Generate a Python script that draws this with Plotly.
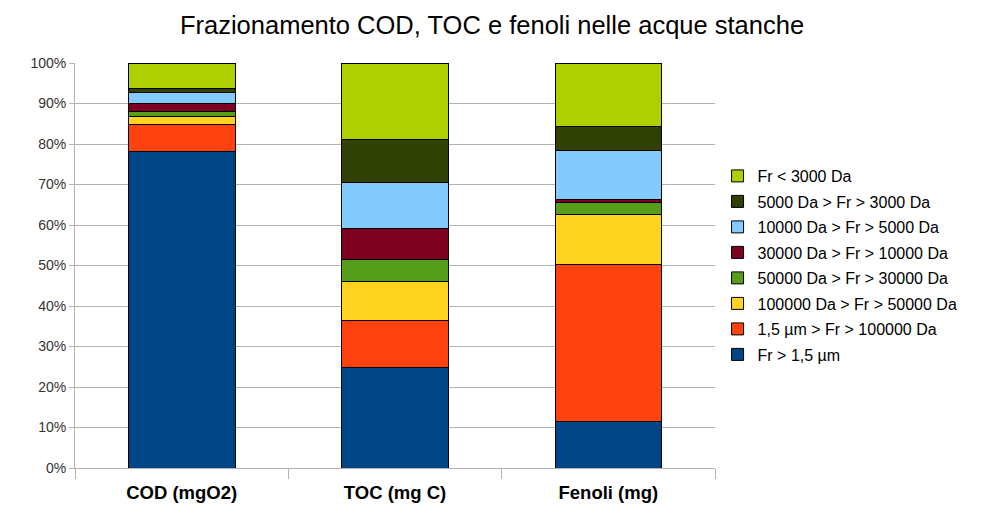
import plotly.graph_objects as go

categories = ["COD (mgO2)", "TOC (mg C)", "Fenoli (mg)"]

series_names = [
    "Fr > 1,5 µm",
    "1,5 µm > Fr > 100000 Da",
    "100000 Da > Fr > 50000 Da",
    "50000 Da > Fr > 30000 Da",
    "30000 Da > Fr > 10000 Da",
    "10000 Da > Fr > 5000 Da",
    "5000 Da > Fr > 3000 Da",
    "Fr < 3000 Da",
]

fr_gt_15um = [78.2, 24.9, 11.6]
fr_15um_100k = [6.7, 11.4, 38.7]
fr_100k_50k = [2.0, 9.8, 12.3]
fr_50k_30k = [1.2, 5.4, 2.9]
fr_30k_10k = [1.8, 7.7, 0.8]
fr_10k_5k = [2.9, 11.3, 12.1]
fr_5k_3k = [0.9, 10.5, 6.0]
fr_lt_3k = [6.3, 19.0, 15.6]

series_values = [fr_gt_15um, fr_15um_100k, fr_100k_50k, fr_50k_30k,
                 fr_30k_10k, fr_10k_5k, fr_5k_3k, fr_lt_3k]

colors = ["#004586", "#ff420e", "#ffd320", "#579d1c",
          "#7e0021", "#83caff", "#314004", "#aecf00"]

y_ticks = [0, 10, 20, 30, 40, 50, 60, 70, 80, 90, 100]

n = len(series_names)
fig = go.Figure()
for i, (name, vals, col) in enumerate(zip(series_names, series_values, colors)):
    fig.add_trace(go.Bar(
        x=categories, y=vals, name=name,
        marker=dict(color=col, line=dict(color="#000000", width=1)),
        legendgroup=f"g{i}",
        legendrank=1000 + (n - i),
        width=0.5,
    ))

fig.update_layout(
    barmode="stack",
    width=985, height=531,
    margin=dict(l=67, r=278, t=55, b=71),
    paper_bgcolor="white",
    plot_bgcolor="white",
    font=dict(family="Liberation Sans, Arial, sans-serif", color="#000000"),
    title=dict(
        text="Frazionamento COD, TOC e fenoli nelle acque stanche",
        xref="container", x=0.4914, xanchor="center",
        yref="container", y=0.968, yanchor="middle",
        font=dict(size=25.5, color="#000000"),
    ),
    legend=dict(
        x=1.004, xanchor="left", y=0.5, yanchor="middle",
        traceorder="grouped",
        tracegroupgap=1.7,
        font=dict(size=16, color="#000000"),
        itemwidth=30,
        bgcolor="rgba(0,0,0,0)",
    ),
    showlegend=True,
)
fig.update_yaxes(
    range=[0, 100],
    tickvals=y_ticks,
    ticktext=[f"{v}%" for v in y_ticks],
    showgrid=True, gridcolor="#b3b3b3", gridwidth=1,
    showline=True, linecolor="#b3b3b3", linewidth=1,
    ticks="outside", ticklen=5, tickcolor="#b3b3b3",
    tickfont=dict(size=14, color="#333333"),
    zeroline=False,
)
fig.update_xaxes(
    showline=True, linecolor="#b3b3b3", linewidth=1,
    ticks="outside", ticklen=10, tickcolor="#b3b3b3",
    tickson="boundaries",
    tickfont=dict(size=18.5, color="#000000", family="Liberation Sans, Arial, sans-serif"),
    ticklabelstandoff=8,
    tickprefix="<b>", ticksuffix="</b>",
)

fig.write_html("out.html")
